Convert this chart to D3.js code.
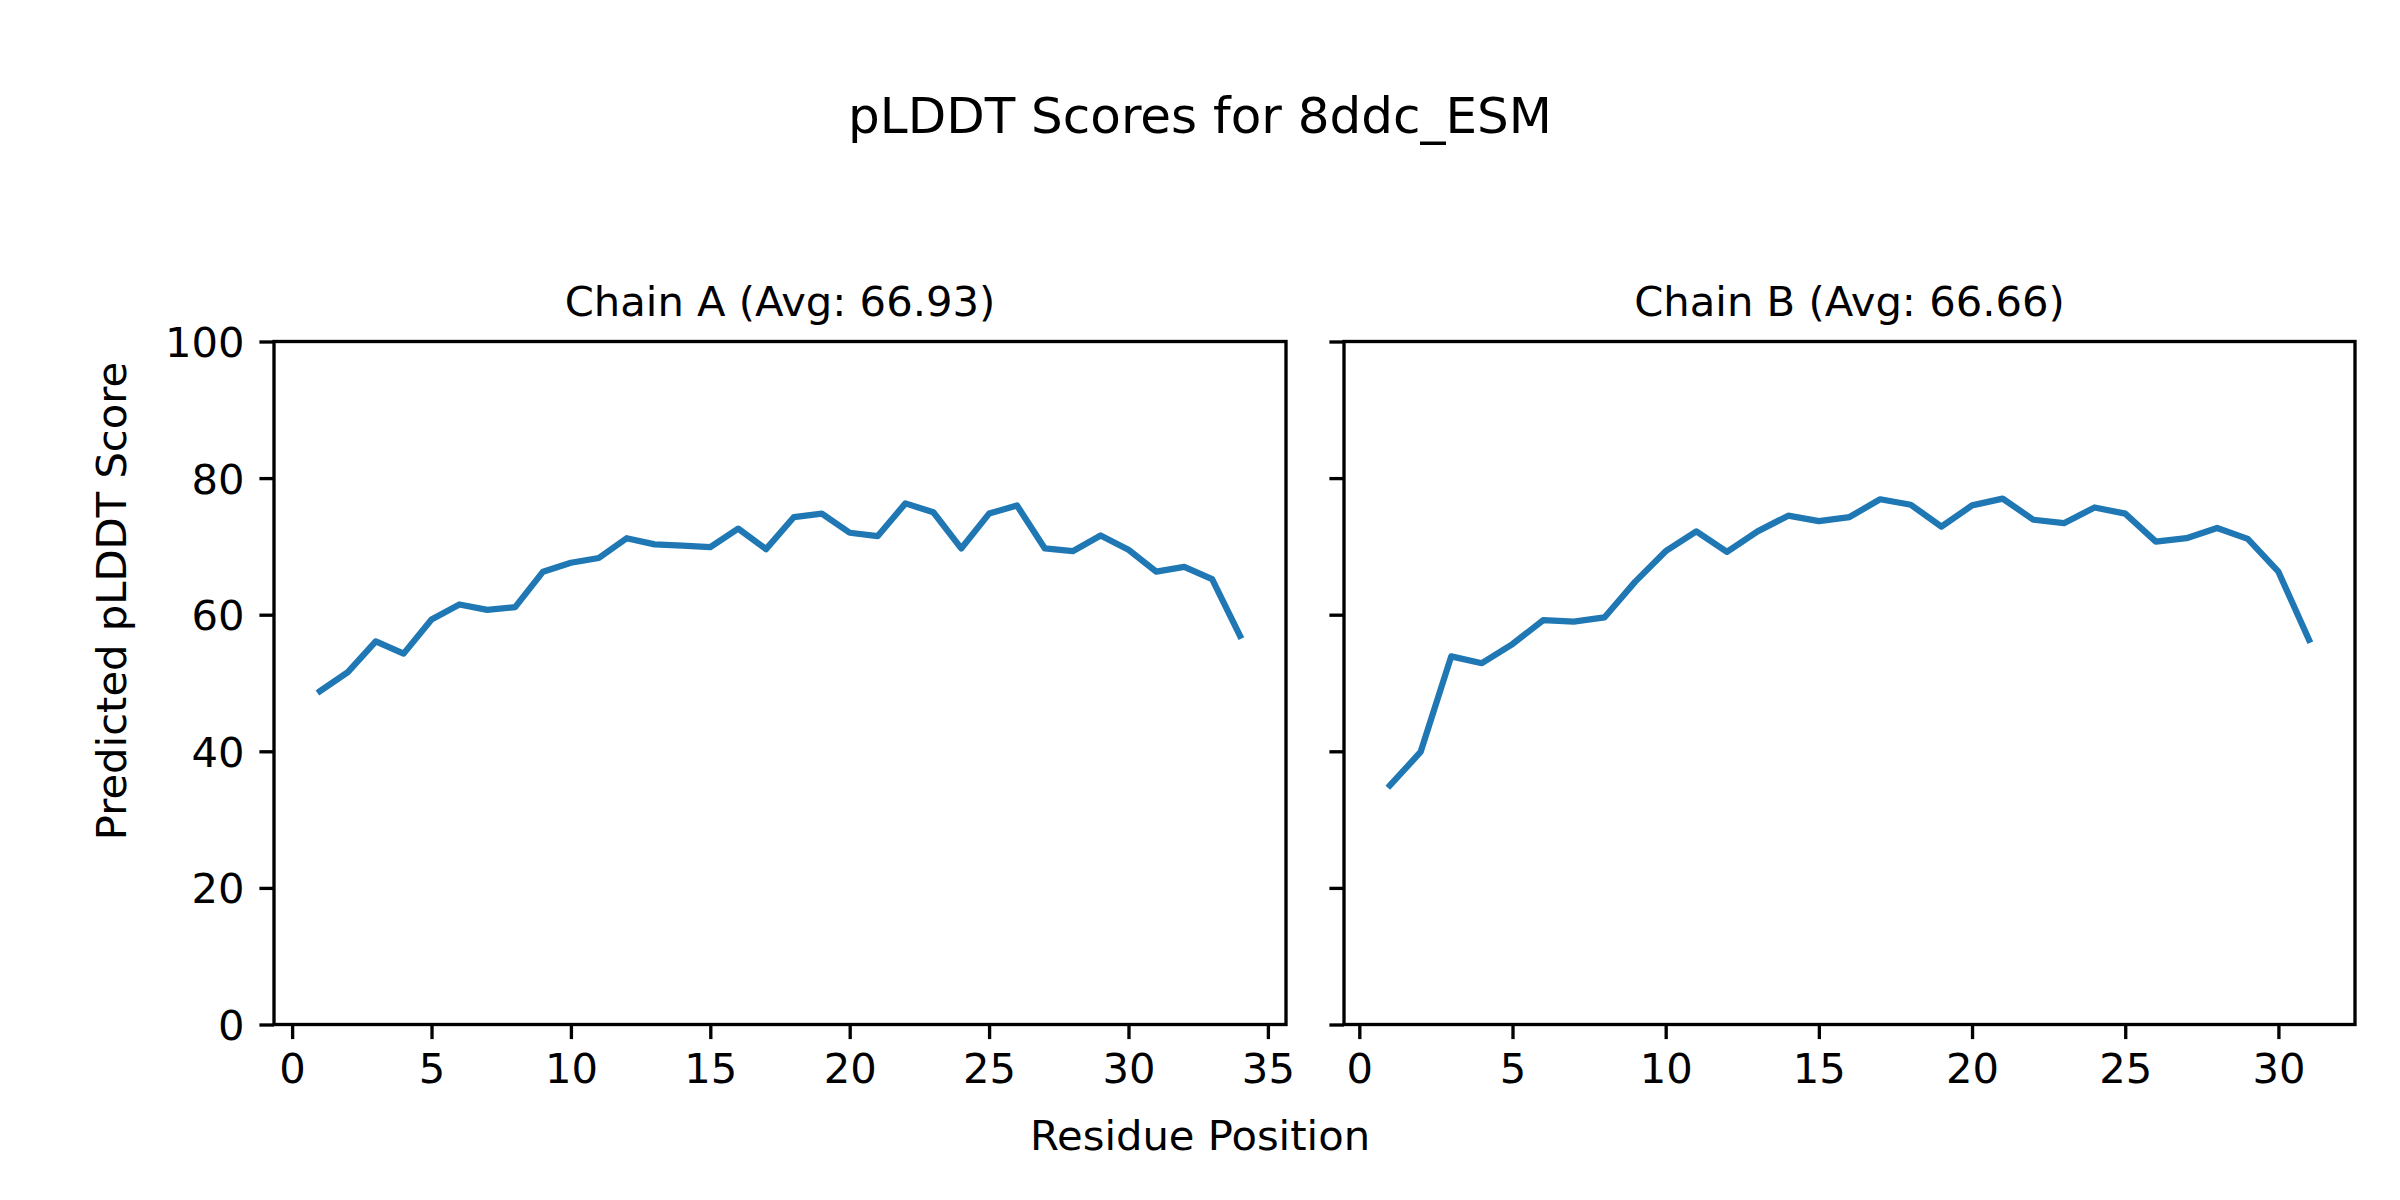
<!DOCTYPE html>
<html>
<head>
<meta charset="utf-8">
<script src="https://cdn.jsdelivr.net/npm/d3@7"></script>
<style>
  html, body { margin: 0; padding: 0; background: #fff; }
  svg { display: block; }
  text { font-family: "DejaVu Sans", sans-serif; fill: #000; }
</style>
</head>
<body>
<svg id="chart" width="2400" height="1200"></svg>
<script>
// ---- Data ----
const chainNames = ["Chain A", "Chain B"];
const chainAvgs = [66.93, 66.66];
const chainA = [48.8, 51.6, 56.1, 54.3, 59.3, 61.5, 60.7, 61.1, 66.3, 67.6,
                68.3, 71.2, 70.3, 70.1, 69.9, 72.6, 69.6, 74.3, 74.8, 72.0,
                71.5, 76.3, 75.0, 69.7, 74.8, 76.0, 69.7, 69.3, 71.6, 69.5,
                66.3, 67.0, 65.2, 56.9];
const chainB = [35.0, 39.9, 53.9, 52.9, 55.7, 59.2, 59.0, 59.6, 64.8, 69.3,
                72.2, 69.2, 72.2, 74.5, 73.7, 74.3, 76.9, 76.1, 72.9, 76.0,
                77.0, 73.9, 73.4, 75.7, 74.8, 70.7, 71.2, 72.7, 71.1, 66.3,
                56.3];
const xTicksA = [0, 5, 10, 15, 20, 25, 30, 35];
const xTicksB = [0, 5, 10, 15, 20, 25, 30];
const yTicks = [0, 20, 40, 60, 80, 100];
const titleText = "pLDDT Scores for 8ddc_ESM";
const xLabelText = "Residue Position";
const yLabelText = "Predicted pLDDT Score";

// ---- Layout ----
const svg = d3.select("#chart");
const panels = [
  { name: chainNames[0], avg: chainAvgs[0], values: chainA, ticks: xTicksA, x0: 274, x1: 1286, showYLabels: true },
  { name: chainNames[1], avg: chainAvgs[1], values: chainB, ticks: xTicksB, x0: 1344, x1: 2355, showYLabels: false }
];
const yTop = 341.5, yBot = 1024.5;
const tickLen = 14.6, tickW = 3.33, spineW = 3.33, fontSize = 41.7;

const y = d3.scaleLinear().domain([0, 100]).range([yBot, yTop]);

panels.forEach(p => {
  const n = p.values.length;
  const margin = (n - 1) * 0.05;
  const x = d3.scaleLinear().domain([1 - margin, n + margin]).range([p.x0, p.x1]);
  const data = p.values.map((v, i) => ({ pos: i + 1, val: v }));

  const g = svg.append("g");

  // line
  g.append("path")
    .datum(data)
    .attr("fill", "none")
    .attr("stroke", "#1f77b4")
    .attr("stroke-width", 6.25)
    .attr("stroke-linejoin", "round")
    .attr("stroke-linecap", "square")
    .attr("d", d3.line().x(d => x(d.pos)).y(d => y(d.val)));

  // x axis
  const xAxis = g.append("g")
    .attr("transform", `translate(0,${yBot})`)
    .call(d3.axisBottom(x).tickValues(p.ticks).tickSize(tickLen).tickFormat(d3.format("d")));
  xAxis.select(".domain").remove();
  xAxis.selectAll(".tick line").attr("stroke", "#000").attr("stroke-width", tickW);
  xAxis.selectAll(".tick text")
    .attr("y", 58.5).attr("dy", 0)
    .attr("font-size", fontSize)
    .attr("font-family", "DejaVu Sans").attr("fill", "#000");

  // y axis
  const yAxis = g.append("g")
    .attr("transform", `translate(${p.x0},0)`)
    .call(d3.axisLeft(y).tickValues(yTicks).tickSize(tickLen).tickFormat(p.showYLabels ? d3.format("d") : () => ""));
  yAxis.select(".domain").remove();
  yAxis.selectAll(".tick line").attr("stroke", "#000").attr("stroke-width", tickW);
  yAxis.selectAll(".tick text")
    .attr("x", -29.5).attr("dy", "0.36em")
    .attr("font-size", fontSize)
    .attr("font-family", "DejaVu Sans").attr("fill", "#000");

  // spines
  g.append("rect")
    .attr("x", p.x0).attr("y", yTop)
    .attr("width", p.x1 - p.x0).attr("height", yBot - yTop)
    .attr("fill", "none").attr("stroke", "#000")
    .attr("stroke-width", spineW)
    .attr("stroke-linejoin", "miter");

  // panel title
  g.append("text")
    .attr("x", (p.x0 + p.x1) / 2).attr("y", 316)
    .attr("text-anchor", "middle")
    .attr("font-size", fontSize)
    .text(`${p.name} (Avg: ${p.avg.toFixed(2)})`);
});

// figure title
svg.append("text")
  .attr("x", 1200).attr("y", 133)
  .attr("text-anchor", "middle")
  .attr("font-size", 50)
  .text(titleText);

// x label
svg.append("text")
  .attr("x", 1200).attr("y", 1150)
  .attr("text-anchor", "middle")
  .attr("font-size", fontSize)
  .text(xLabelText);

// y label
svg.append("text")
  .attr("transform", "translate(126,601) rotate(-90)")
  .attr("text-anchor", "middle")
  .attr("font-size", fontSize)
  .text(yLabelText);
</script>
</body>
</html>
